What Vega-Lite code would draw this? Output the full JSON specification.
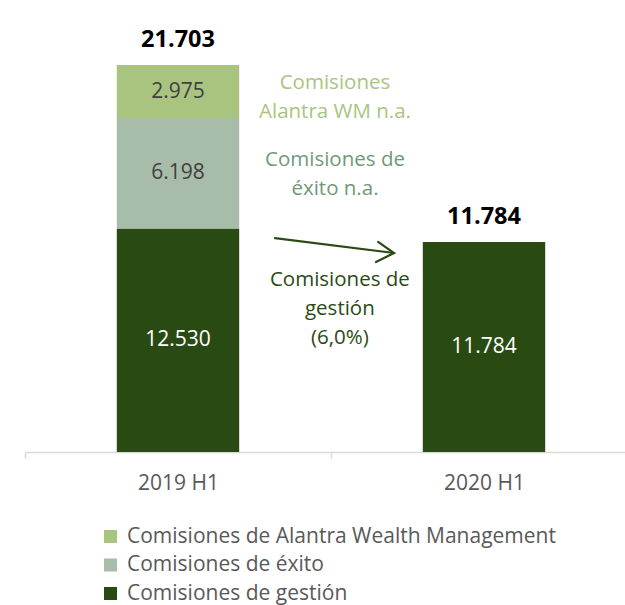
{
  "$schema": "https://vega.github.io/schema/vega-lite/v6.json",
  "width": 600,
  "height": 452,
  "autosize": {"type": "none"},
  "padding": {"left": 25, "top": 0, "right": 0, "bottom": 153},
  "background": "white",
  "config": {"view": {"stroke": null}, "font": "Open Sans"},
  "datasets": {
    "fees": [
      {"period": "2019 H1", "series": "Comisiones de gestión", "rank": 1, "value": 12.53},
      {"period": "2019 H1", "series": "Comisiones de éxito", "rank": 2, "value": 6.198},
      {"period": "2019 H1", "series": "Comisiones de Alantra Wealth Management", "rank": 3, "value": 2.975},
      {"period": "2020 H1", "series": "Comisiones de gestión", "rank": 1, "value": 11.784}
    ],
    "notes": [
      {"grp": "wm", "pos": 1.013, "val": 20.69, "label": "Comisiones\nAlantra WM n.a."},
      {"grp": "exito", "pos": 1.013, "val": 16.37, "label": "Comisiones de\néxito n.a."},
      {"grp": "gestion", "pos": 1.029, "val": 9.65, "label": "Comisiones de\ngestión\n(6,0%)"}
    ],
    "arrow": [
      {"part": "shaft", "k": 1, "pos": 0.817, "val": 12.0},
      {"part": "shaft", "k": 2, "pos": 1.206, "val": 11.16},
      {"part": "head", "k": 1, "pos": 1.154, "val": 11.78},
      {"part": "head", "k": 2, "pos": 1.206, "val": 11.16},
      {"part": "head", "k": 3, "pos": 1.147, "val": 10.65}
    ]
  },
  "layer": [
    {
      "data": {"name": "fees"},
      "layer": [
        {
          "mark": {"type": "bar"},
          "encoding": {
            "x": {
              "field": "period", "type": "nominal", "title": null,
              "scale": {"range": [0, 612], "paddingInner": 0.6, "paddingOuter": 0.3},
              "axis": {
                "domainColor": "#D9D9D9", "domainWidth": 1.5,
                "tickColor": "#D9D9D9", "tickSize": 6, "tickWidth": 1.5,
                "tickOffset": -153, "labelOffset": 153,
                "labelAngle": 0, "labelFont": "Open Sans", "labelFontSize": 21,
                "labelColor": "#595959", "labelPadding": 14
              }
            },
            "y": {
              "field": "value", "type": "quantitative", "stack": "zero",
              "scale": {"domain": [0, 25.35], "nice": false}, "axis": null
            },
            "color": {
              "field": "series", "type": "nominal",
              "scale": {
                "domain": ["Comisiones de Alantra Wealth Management", "Comisiones de éxito", "Comisiones de gestión"],
                "range": ["#A9C47F", "#A7BDAA", "#2A4A14"]
              },
              "legend": {
                "title": null, "orient": "none", "legendX": 75, "legendY": 526,
                "symbolType": "square", "symbolSize": 170, "symbolStrokeWidth": 0,
                "labelFont": "Open Sans", "labelFontSize": 21, "labelColor": "#595959",
                "labelLimit": 600,
                "rowPadding": 6.5, "labelOffset": 6, "padding": 0
              }
            },
            "order": {"field": "rank", "type": "quantitative"}
          }
        },
        {
          "transform": [
            {"stack": "value", "groupby": ["period"], "sort": [{"field": "rank"}], "as": ["v0", "v1"]},
            {"calculate": "(datum.v0 + datum.v1) / 2", "as": "mid"}
          ],
          "mark": {"type": "text", "font": "Open Sans", "fontSize": 21, "baseline": "middle", "align": "center"},
          "encoding": {
            "x": {"field": "period", "type": "nominal"},
            "y": {"field": "mid", "type": "quantitative"},
            "text": {"field": "value", "type": "quantitative", "format": ".3f"},
            "color": {
              "condition": {"test": "datum.series === 'Comisiones de gestión'", "value": "#FFFFFF"},
              "value": "#404040"
            }
          }
        },
        {
          "transform": [
            {"aggregate": [{"op": "sum", "field": "value", "as": "total"}], "groupby": ["period"]}
          ],
          "mark": {"type": "text", "font": "Open Sans", "fontSize": 23.5, "fontWeight": "bold", "baseline": "alphabetic", "align": "center", "dy": -18, "color": "#000000"},
          "encoding": {
            "x": {"field": "period", "type": "nominal"},
            "y": {"field": "total", "type": "quantitative"},
            "text": {"field": "total", "type": "quantitative", "format": ".3f"}
          }
        }
      ]
    },
    {
      "layer": [
        {
          "data": {"name": "notes"},
          "transform": [{"filter": "datum.grp === 'wm'"}],
          "mark": {"type": "text", "font": "Open Sans", "fontSize": 20.5, "lineBreak": "\n", "lineHeight": 29, "baseline": "middle", "align": "center", "color": "#A9C47F"},
          "encoding": {
            "x": {"field": "pos", "type": "quantitative", "scale": {"domain": [0, 2], "range": [0, 612], "nice": false, "zero": false}, "axis": null},
            "y": {"field": "val", "type": "quantitative"},
            "text": {"field": "label"}
          }
        },
        {
          "data": {"name": "notes"},
          "transform": [{"filter": "datum.grp === 'exito'"}],
          "mark": {"type": "text", "font": "Open Sans", "fontSize": 20.5, "lineBreak": "\n", "lineHeight": 29, "baseline": "middle", "align": "center", "color": "#6E9A78"},
          "encoding": {
            "x": {"field": "pos", "type": "quantitative"},
            "y": {"field": "val", "type": "quantitative"},
            "text": {"field": "label"}
          }
        },
        {
          "data": {"name": "notes"},
          "transform": [{"filter": "datum.grp === 'gestion'"}],
          "mark": {"type": "text", "font": "Open Sans", "fontSize": 20.5, "lineBreak": "\n", "lineHeight": 29, "baseline": "middle", "align": "center", "color": "#2A4A14"},
          "encoding": {
            "x": {"field": "pos", "type": "quantitative"},
            "y": {"field": "val", "type": "quantitative"},
            "text": {"field": "label"}
          }
        },
        {
          "data": {"name": "arrow"},
          "mark": {"type": "line", "color": "#2A4A14", "strokeWidth": 2.2, "strokeCap": "round", "strokeJoin": "miter"},
          "encoding": {
            "x": {"field": "pos", "type": "quantitative"},
            "y": {"field": "val", "type": "quantitative"},
            "detail": {"field": "part"},
            "order": {"field": "k", "type": "quantitative"}
          }
        }
      ]
    }
  ],
  "resolve": {"scale": {"x": "independent"}}
}
